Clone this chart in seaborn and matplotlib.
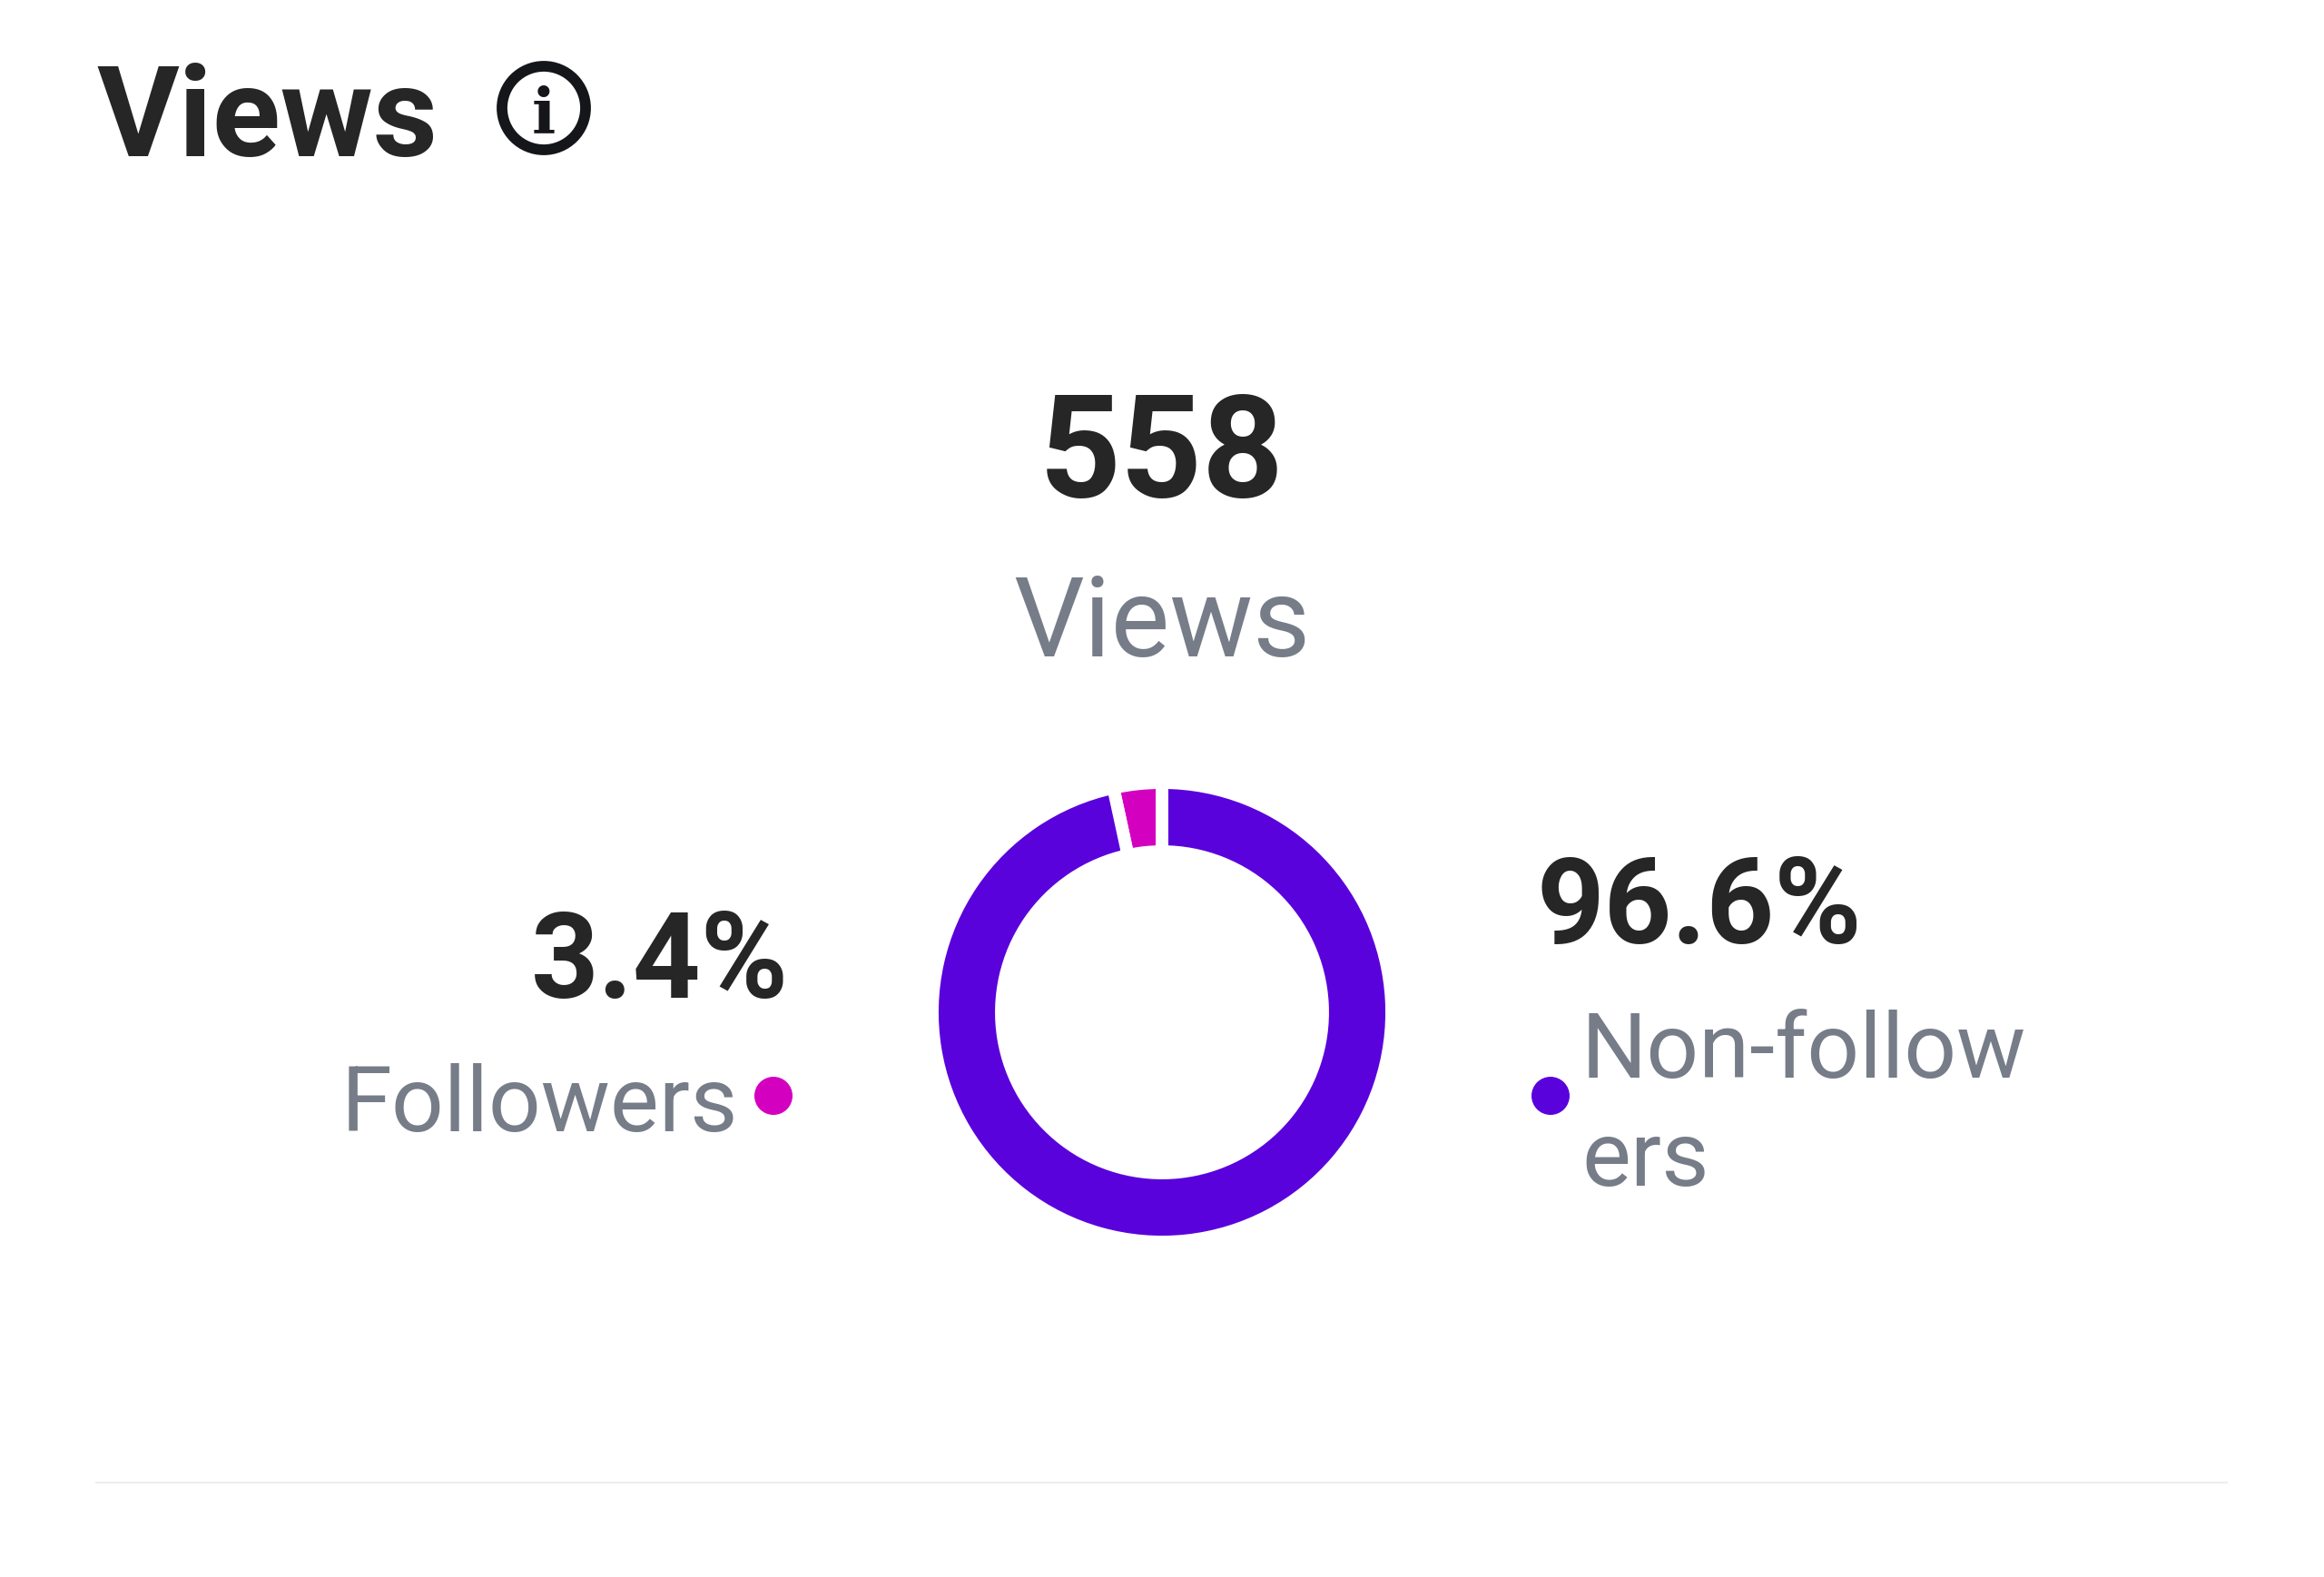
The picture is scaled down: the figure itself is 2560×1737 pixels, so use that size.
import matplotlib
matplotlib.use("Agg")
import matplotlib.pyplot as plt
from matplotlib.patches import Circle
import seaborn as sns

# data
segments = ["Followers", "Non-followers"]
shares = [3.4, 96.6]
total_views = 558
title = "Views"
total_label = "Views"
followers_lines = ["Followers"]
non_followers_lines = ["Non-follow", "ers"]

colors = sns.color_palette(["#d400c0", "#5a02dc"])
dark = "#262626"
grey = "#767c88"

W, H = 2560, 1737

fig = plt.figure(figsize=(W / 100, H / 100), dpi=100, facecolor="white")

# full size overlay in pixels, y going down
bg = fig.add_axes([0, 0, 1, 1])
bg.set_xlim(0, W)
bg.set_ylim(H, 0)
sns.despine(ax=bg, left=True, bottom=True)
bg.axis("off")


def label(x, y, s, size, color=grey, weight="normal", ha="left", family="Roboto"):
    return fig.text(x / W, 1 - y / H, s, family=family, fontsize=size, color=color,
                    fontweight=weight, ha=ha, va="baseline")


# donut
cx, cy = 1280, 1115
outer = 253
inner = 177
pad = 1.1
ax = fig.add_axes([(cx - outer * pad) / W, 1 - (cy + outer * pad) / H,
                   2 * outer * pad / W, 2 * outer * pad / H])
ax.pie(shares, colors=colors, startangle=90, radius=1,
       wedgeprops=dict(width=(outer - inner) / outer, edgecolor="white", linewidth=10))
ax.set_xlim(-pad, pad)
ax.set_ylim(-pad, pad)
ax.axis("off")

# header
label(106, 172, title, 100, dark, "bold")
bg.add_patch(Circle((599, 119), 46, fill=False, ec="#14161a", lw=8.5))
label(599, 146, "i", 50, "#14161a", "bold", "center", family="DejaVu Serif")

# total
label(cx, 547, str(total_views), 113, dark, "bold", "center")
label(cx, 723, total_label, 88, ha="center")

# left label
label(869, 1099, f"{shares[0]}%", 94, dark, "bold", "right")
label(813, 1246, followers_lines[0], 73, ha="right")
bg.add_patch(Circle((852, 1207), 21, fc=colors[0], ec="none"))

# right label
label(1692, 1039, f"{shares[1]}%", 94, dark, "bold")
label(1742, 1187, non_followers_lines[0], 73)
label(1742, 1306, non_followers_lines[1], 73)
bg.add_patch(Circle((1708, 1207), 21, fc=colors[1], ec="none"))

# divider at the bottom
bg.plot([106, 2453], [1633, 1633], color="#eeeeee", lw=1.5)

fig.savefig("out.png", dpi=100, facecolor="white")
